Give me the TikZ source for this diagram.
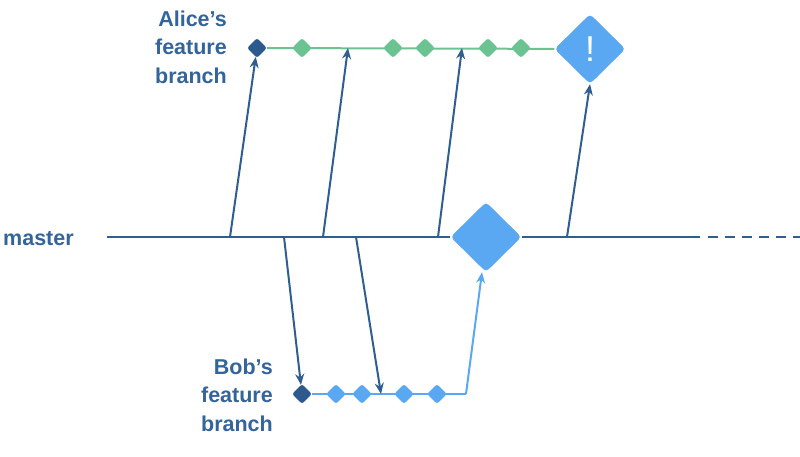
\documentclass[tikz,border=0pt]{standalone}
\usepackage{fontspec}
\setmainfont{Liberation Sans}
\usetikzlibrary{shapes.geometric,arrows.meta,backgrounds}
\definecolor{txtblue}{HTML}{34649C}
\definecolor{arrblue}{HTML}{2F5E90}
\definecolor{darkdia}{HTML}{2D5A8E}
\definecolor{greenc}{HTML}{6CC392}
\definecolor{lightb}{HTML}{5AA8F2}
\tikzset{
  lbl/.style={font=\bfseries\fontsize{21.5}{28.5}\selectfont, text=txtblue, align=right, anchor=east, inner sep=0},
  smalldia/.style={diamond, minimum width=20pt, minimum height=20pt, inner sep=0, rounded corners=2.5pt},
  darkd/.style={smalldia, fill=darkdia},
  greend/.style={smalldia, fill=greenc},
  blued/.style={smalldia, fill=lightb},
  bigdia/.style={diamond, minimum width=71pt, minimum height=70pt, inner sep=0, rounded corners=4pt, fill=lightb},
  arr/.style={draw=arrblue, line width=2pt, -{Stealth[length=11pt,width=9pt]}},
  mline/.style={draw=arrblue, line width=2.4pt},
}
\begin{document}
\begin{tikzpicture}[x=1pt,y=-1pt]
\useasboundingbox (0,0) rectangle (800,457);
% labels
\node[lbl] (alice) at (227,47) {Alice’s\\feature\\branch};
\node[lbl] (bob) at (273,395) {Bob’s\\feature\\branch};
\node[lbl, anchor=west] (master) at (3,239) {master};
% master points
\coordinate (m0) at (107,237);
\coordinate (m1) at (700,237);
\coordinate (d0) at (708,237);
\coordinate (d1) at (800,237);
\coordinate (ma1) at (230,237);
\coordinate (mb1) at (284,237);
\coordinate (ma2) at (323,237);
\coordinate (mb2) at (356,237);
\coordinate (ma3) at (438,237);
\coordinate (ma4) at (567,237);
\node[bigdia] (M) at (486,237) {};
% alice
\node[darkd] (A0) at (257,48) {};
\node[greend] (g1) at (302,48) {};
\node[greend] (g2) at (393,48) {};
\node[greend] (g3) at (425,48) {};
\node[greend] (g4) at (488,48) {};
\node[greend] (g5) at (521,48) {};
\node[bigdia, text=white, font=\fontsize{36}{36}\selectfont] (X) at (590,49) {!};
\coordinate (a2) at (348,48);
\coordinate (a3) at (462,48);
% bob
\node[darkd] (B0) at (302,394) {};
\node[blued] (b1) at (336,394) {};
\node[blued] (b2) at (362,394) {};
\node[blued] (b3) at (404,394) {};
\node[blued] (b4) at (437,394) {};
\coordinate (bc) at (466,394);
\coordinate (b5) at (381,394);
\begin{pgfonlayer}{background}
\draw[mline] (m0) -- (M) -- (m1);
\draw[mline, dash pattern=on 10pt off 7pt] (d0) -- (d1);
\draw[greenc, line width=2pt] (A0) -- (X);
\draw[lightb, line width=2pt] (B0) -- (bc);
\end{pgfonlayer}
\draw[lightb, line width=2pt, -{Stealth[length=11pt,width=9pt]}] (bc) -- ([xshift=-4pt]M.south);
\draw[arr] (ma1) -- (A0);
\draw[arr] (ma2) -- (a2);
\draw[arr] (ma3) -- (a3);
\draw[arr] (ma4) -- (X.south);
\draw[arr] (mb1) -- (B0);
\draw[arr] (mb2) -- (b5);
\end{tikzpicture}
\end{document}
